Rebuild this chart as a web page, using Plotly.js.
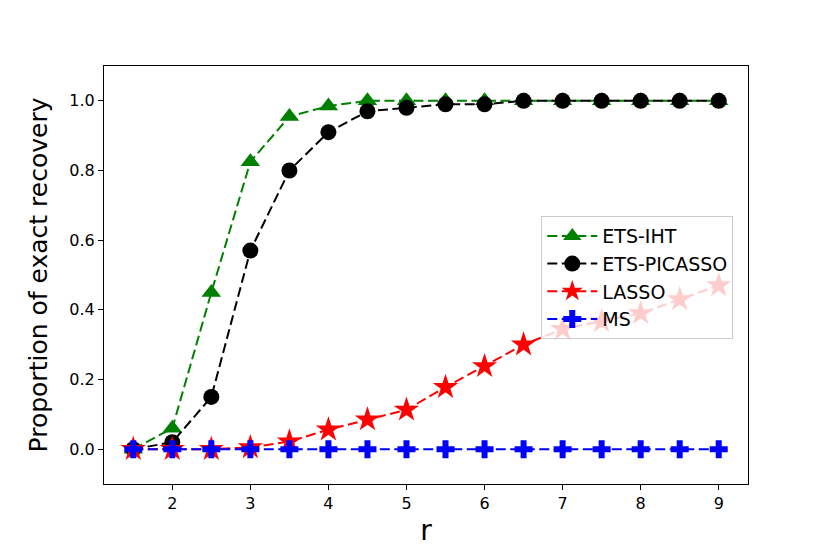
<!DOCTYPE html>
<html>
<head>
<meta charset="utf-8">
<script src="https://cdn.plot.ly/plotly-3.0.1.min.js"></script>
<style>html,body{margin:0;padding:0;background:#fff;}#chart{width:830px;height:554px;}</style>
</head>
<body>
<div id="chart"></div>
<script>
const r = [1.5, 2, 2.5, 3, 3.5, 4, 4.5, 5, 5.5, 6, 6.5, 7, 7.5, 8, 8.5, 9];
const etsIht = [0, 0.06, 0.45, 0.825, 0.955, 0.985, 1.0, 1.0, 1.0, 1.0, 1.0, 1.0, 1.0, 1.0, 1.0, 1.0];
const etsPicasso = [0, 0.02, 0.15, 0.57, 0.80, 0.91, 0.97, 0.98, 0.99, 0.99, 1.0, 1.0, 1.0, 1.0, 1.0, 1.0];
const lasso = [0, 0, 0, 0.005, 0.022, 0.056, 0.085, 0.113, 0.178, 0.238, 0.30, 0.345, 0.367, 0.39, 0.43, 0.47];
const ms = [0, 0, 0, 0, 0, 0, 0, 0, 0, 0, 0, 0, 0, 0, 0, 0];
const names = ['ETS-IHT', 'ETS-PICASSO', 'LASSO', 'MS'];
const yTicks = [0, 0.2, 0.4, 0.6, 0.8, 1.0];
const yTickText = ['0.0', '0.2', '0.4', '0.6', '0.8', '1.0'];
const xTicks = [2, 3, 4, 5, 6, 7, 8, 9];

const dashPat = '10px,4.5px';
function tr(y, name, color, symbol, size, grp) {
  return {
    x: r, y: y, name: name, type: 'scatter', mode: 'lines+markers',
    legendgroup: grp,
    line: {color: color, width: 2, dash: dashPat},
    marker: {color: color, symbol: symbol, size: size, line: {width: 0}}
  };
}
const data = [
  tr(etsIht, names[0], '#008000', 'triangle-up', 17, 'a'),
  tr(etsPicasso, names[1], '#000000', 'circle', 16, 'b'),
  tr(lasso, names[2], '#ff0000', 'star', 19, 'c'),
  tr(ms, names[3], '#0000ff', 'cross', 15, 'd')
];
const FF = 'DejaVu Sans, sans-serif';
const layout = {
  width: 830, height: 554,
  margin: {l: 104, r: 82, t: 66, b: 70},
  paper_bgcolor: '#fff', plot_bgcolor: '#fff',
  font: {family: FF, color: '#000'},
  showlegend: true,
  legend: {
    x: 0.679, y: 0.641, xanchor: 'left', yanchor: 'top',
    bgcolor: 'rgba(255,255,255,0.8)', bordercolor: '#cccccc', borderwidth: 1,
    font: {family: FF, size: 19, color: '#000'},
    traceorder: 'grouped', tracegroupgap: 0, itemwidth: 50
  },
  xaxis: {
    range: [1.125, 9.375], tickmode: 'array', tickvals: xTicks,
    ticks: 'outside', ticklen: 5, tickwidth: 1, tickcolor: '#000',
    showline: true, mirror: true, linecolor: '#000', linewidth: 1,
    showgrid: false, zeroline: false,
    tickfont: {family: FF, size: 16, color: '#000'},
    title: {text: 'r', font: {family: FF, size: 28, color: '#000'}, standoff: 8}
  },
  yaxis: {
    range: [-0.1, 1.1], tickmode: 'array', tickvals: yTicks, ticktext: yTickText,
    ticks: 'outside', ticklen: 5, tickwidth: 1, tickcolor: '#000',
    showline: true, mirror: true, linecolor: '#000', linewidth: 1,
    showgrid: false, zeroline: false,
    tickfont: {family: FF, size: 16, color: '#000'},
    title: {text: 'Proportion of exact recovery', font: {family: FF, size: 25, color: '#000'}, standoff: 14}
  }
};
Plotly.newPlot('chart', data, layout, {displayModeBar: false, staticPlot: true});
</script>
</body>
</html>
